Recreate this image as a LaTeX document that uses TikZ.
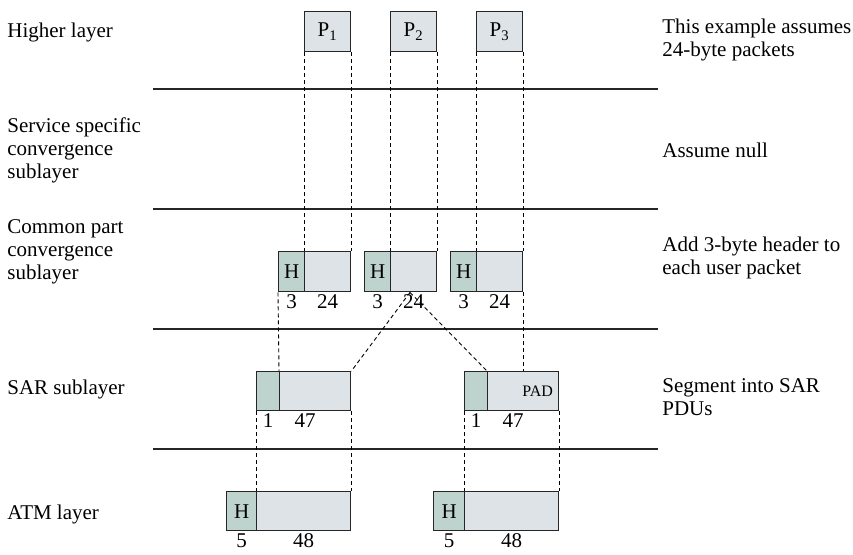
\documentclass[tikz,border=0pt]{standalone}
\usepackage{fontspec}
\setmainfont{Liberation Serif}
\usetikzlibrary{positioning}
\definecolor{HdrColor}{RGB}{190,210,206}
\definecolor{BodyColor}{RGB}{221,227,230}
\tikzset{box/.style={draw=black!85,line width=0.7pt,inner sep=0pt,anchor=north west,minimum height=20pt},
	hdr/.style={box,fill=HdrColor,minimum height=20pt},
	pay/.style={box,fill=BodyColor},
	seg/.style={dash pattern=on 2pt off 1.5pt,line width=0.45pt},
	sep/.style={line width=0.6pt,black!85},
	num/.style={inner sep=1pt},
	txt/.style={anchor=west,align=left,inner sep=0pt}}

\begin{document}
\begin{tikzpicture}[x=0.5pt,y=-0.5pt,font=\fontsize{10.5}{11.5}\selectfont]
	\useasboundingbox (0,0) rectangle (853,554);
	% layer boundaries
	\foreach \y in {89,209,329,449}
		\draw[sep] (153,\y) -- (658,\y);
	% layer names
	\node[txt] (hl) at (7,32) {Higher layer};
	\node[txt] (sscs) at (7,150) {Service specific\\convergence\\sublayer};
	\node[txt] (cpcs) at (7,252) {Common part\\convergence\\sublayer};
	\node[txt] (sar) at (7,389) {SAR sublayer};
	\node[txt] (atm) at (7,514) {ATM layer};
	% notes
	\node[txt] (n1) at (662,40) {This example assumes\\24-byte packets};
	\node[txt] (n2) at (662,150) {Assume null};
	\node[txt] (n3) at (662,258) {Add 3-byte header to\\each user packet};
	\node[txt] (n4) at (662,397) {Segment into SAR\\PDUs};
	% user packets
	\node[pay,minimum width=23pt] (P1) at (304,11) {P\textsubscript{1}};
	\node[pay,minimum width=23pt] (P2) at (390,11) {P\textsubscript{2}};
	\node[pay,minimum width=23pt] (P3) at (476,11) {P\textsubscript{3}};
	% CPCS PDUs
	\node[hdr,minimum width=13pt] (H1) at (278,251) {H};
	\node[pay,minimum width=23pt] (B1) at (304,251) {};
	\node[hdr,minimum width=13pt] (H2) at (364,251) {H};
	\node[pay,minimum width=23pt] (B2) at (390,251) {};
	\node[hdr,minimum width=13pt] (H3) at (450,251) {H};
	\node[pay,minimum width=23pt] (B3) at (476,251) {};
	\node[num,below=0pt of H1] (h1n) {3};
	\node[num,below=0pt of B1] (b1n) {24};
	\node[num,below=0pt of H2] (h2n) {3};
	\node[num,below=0pt of B2] (b2n) {24};
	\node[num,below=0pt of H3] (h3n) {3};
	\node[num,below=0pt of B3] (b3n) {24};
	% SAR PDUs
	\node[hdr,minimum width=11.5pt,minimum height=19.5pt] (S1) at (256,371) {};
	\node[pay,minimum width=35.5pt,minimum height=19.5pt] (T1) at (279,371) {};
	\node[hdr,minimum width=11.5pt,minimum height=19.5pt] (S2) at (464,371) {};
	\node[pay,minimum width=35.5pt,minimum height=19.5pt] (T2) at (487,371) {};
	\node[anchor=east,inner sep=3pt,font=\fontsize{8}{9}\selectfont] (pad) at (T2.east) {PAD};
	\node[num,below=0pt of S1] (s1n) {1};
	\node[num,below=0pt of T1,xshift=-5pt] (t1n) {47};
	\node[num,below=0pt of S2] (s2n) {1};
	\node[num,below=0pt of T2,xshift=-5pt] (t2n) {47};
	% ATM cells
	\node[hdr,minimum width=15pt,minimum height=19.5pt] (A1) at (226,491) {H};
	\node[pay,minimum width=47pt,minimum height=19.5pt] (C1) at (256,491) {};
	\node[hdr,minimum width=15.5pt,minimum height=19.5pt] (A2) at (433,491) {H};
	\node[pay,minimum width=47pt,minimum height=19.5pt] (C2) at (464,491) {};
	\node[num,below=0pt of A1] (a1n) {5};
	\node[num,below=0pt of C1] (c1n) {48};
	\node[num,below=0pt of A2] (a2n) {5};
	\node[num,below=0pt of C2] (c2n) {48};
	% mapping
	\foreach \i in {1,2,3} {
		\draw[seg] (P\i.south west) -- (B\i.north west);
		\draw[seg] (P\i.south east) -- (B\i.north east);
	}
	\coordinate (cut) at ([xshift=10pt]B2.south west);
	\draw[seg] (H1.south west) -- (T1.north west);
	\draw[seg] (cut) -- (T1.north east);
	\draw[seg] (cut) -- (T2.north west);
	\draw[seg] (B3.south east) -- (B3.south east |- T2.north);
	\draw[seg] (S1.south west) -- (C1.north west);
	\draw[seg] (T1.south east) -- (C1.north east);
	\draw[seg] (S2.south west) -- (C2.north west);
	\draw[seg] (T2.south east) -- (C2.north east);
\end{tikzpicture}
\end{document}
